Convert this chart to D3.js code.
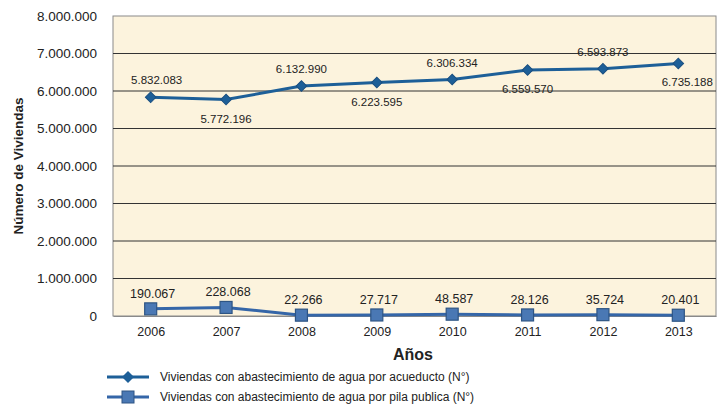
<!DOCTYPE html>
<html><head><meta charset="utf-8">
<script src="https://cdn.jsdelivr.net/npm/d3@7"></script>
<style>body{margin:0;background:#fff}svg{display:block}text{font-family:"Liberation Sans",Arial,sans-serif;fill:#222}</style>
</head><body><svg id="c" width="725" height="404"></svg>
<script>
const years = ["2006","2007","2008","2009","2010","2011","2012","2013"];
const acueducto = [5832083,5772196,6132990,6223595,6306334,6559570,6593873,6735188];
const pila = [190067,228068,22266,27717,48587,28126,35724,20401];
const yTicks = [0,1000000,2000000,3000000,4000000,5000000,6000000,7000000,8000000];
const seriesNames = ["Viviendas con abastecimiento de agua por acueducto (N°)","Viviendas con abastecimiento de agua por pila publica (N°)"];

const svg = d3.select("#c");
const m = {l:113, r:716, t:16, b:316};
const x = d3.scalePoint().domain(years).range([m.l,m.r]).padding(0.5);
const y = d3.scaleLinear().domain([0,8000000]).range([m.b,m.t]);
const fmt = v => d3.format(",")(v).replace(/,/g,".");

svg.append("rect").attr("x",m.l).attr("y",m.t).attr("width",m.r-m.l).attr("height",m.b-m.t)
  .attr("fill","#fcf3dd").attr("stroke","#8a8a8a").attr("stroke-width",1);

// grid
svg.append("g").selectAll("line").data(yTicks.slice(1,-1)).join("line")
  .attr("x1",m.l).attr("x2",m.r).attr("y1",d=>y(d)).attr("y2",d=>y(d))
  .attr("stroke","#333").attr("stroke-width",1);

// y axis
const ya = svg.append("g").attr("transform",`translate(${m.l},0)`)
  .call(d3.axisLeft(y).tickValues(yTicks).tickFormat(fmt).tickSize(0).tickPadding(16));
ya.select(".domain").remove();
ya.selectAll("text").attr("font-size","13.5px").attr("font-family","Liberation Sans, Arial, sans-serif").attr("fill","#222");

// x axis
const xa = svg.append("g").attr("transform",`translate(0,${m.b})`)
  .call(d3.axisBottom(x).tickSize(0).tickPadding(11));
xa.select(".domain").attr("stroke","#8a8a8a");
xa.selectAll("text").attr("font-size","12.5px").attr("font-family","Liberation Sans, Arial, sans-serif").attr("fill","#222");

// titles
svg.append("text").attr("transform","translate(23,166) rotate(-90)").attr("text-anchor","middle")
  .attr("font-size","13.5px").attr("font-weight","bold").text("Número de Viviendas");
svg.append("text").attr("x",413).attr("y",360).attr("text-anchor","middle")
  .attr("font-size","16px").attr("font-weight","bold").text("Años");

const line = d3.line().x((d,i)=>x(years[i])).y(d=>y(d));
const c1 = "#1d5f98", c2 = "#3566a8";

// series 1
svg.append("path").datum(acueducto).attr("d",line).attr("fill","none").attr("stroke",c1).attr("stroke-width",3);
svg.append("g").selectAll("path").data(acueducto).join("path")
  .attr("d",d3.symbol(d3.symbolSquare,56))
  .attr("transform",(d,i)=>`translate(${x(years[i])},${y(d)}) rotate(45)`)
  .attr("fill",c1).attr("stroke","#1a4f80").attr("stroke-width",1);
svg.append("g").selectAll("text").data(acueducto).join("text")
  .attr("x",(d,i)=>x(years[i]) + (i===acueducto.length-1?9:(i===0?6:0)))
  .attr("y",(d,i)=>y(d) + (i%2===0 ? -13 : 23))
  .attr("text-anchor","middle").attr("font-size","11.5px").text(fmt);

// series 2
svg.append("path").datum(pila).attr("d",line).attr("fill","none").attr("stroke",c2).attr("stroke-width",3);
svg.append("g").selectAll("rect").data(pila).join("rect")
  .attr("x",(d,i)=>x(years[i])-6).attr("y",d=>y(d)-6).attr("width",12).attr("height",12)
  .attr("fill","#4a78b4").attr("stroke","#2e5584").attr("stroke-width",1.2);
svg.append("g").selectAll("text").data(pila).join("text")
  .attr("x",(d,i)=>x(years[i])+2)
  .attr("y",d=>Math.min(y(d)-11, 304))
  .attr("text-anchor","middle").attr("font-size","12.5px").text(fmt);

// legend
const lg = svg.append("g");
[0,1].forEach(k=>{
  const ly = 377 + k*20;
  const col = k===0?c1:c2;
  lg.append("line").attr("x1",107).attr("x2",149).attr("y1",ly).attr("y2",ly).attr("stroke",col).attr("stroke-width",3);
  if(k===0) lg.append("path").attr("d",d3.symbol(d3.symbolSquare,72)).attr("transform",`translate(128,${ly}) rotate(45)`).attr("fill",col);
  else lg.append("rect").attr("x",122).attr("y",ly-6).attr("width",12).attr("height",12).attr("fill","#4a78b4").attr("stroke","#2e5584");
  lg.append("text").attr("x",160).attr("y",ly+4).attr("font-size","12px").text(seriesNames[k]);
});
</script></body></html>
